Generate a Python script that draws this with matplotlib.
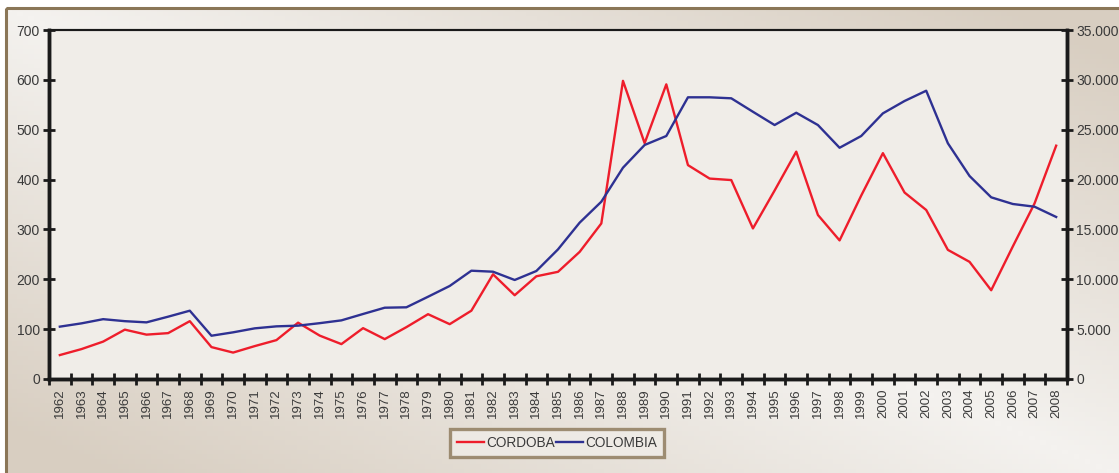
import matplotlib
matplotlib.use("Agg")
import matplotlib.pyplot as plt
import numpy as np
from matplotlib.patches import Rectangle
from matplotlib.colors import LinearSegmentedColormap
from matplotlib.ticker import FuncFormatter, MultipleLocator

years = list(range(1962, 2009))
cordoba = [48, 60, 75, 99, 89, 92, 116, 64, 53, 66, 78, 113, 87, 70, 102, 80,
           104, 130, 110, 137, 210, 168, 206, 215, 255, 312, 598, 473, 591, 429,
           402, 399, 302, 378, 456, 329, 278, 368, 453, 374, 339, 259, 235, 178,
           266, 352, 468]
colombia = [5250, 5580, 6000, 5800, 5680, 6250, 6850, 4340, 4680, 5080, 5280,
            5350, 5600, 5880, 6520, 7150, 7190, 8250, 9330, 10860, 10760, 9930,
            10830, 13000, 15680, 17780, 21190, 23470, 24370, 28250, 28250, 28150,
            26800, 25470, 26700, 25470, 23190, 24370, 26640, 27880, 28910, 23640,
            20360, 18220, 17550, 17280, 16250]
series_names = ["CORDOBA", "COLOMBIA"]

plt.rcParams['font.family'] = ['Liberation Sans', 'DejaVu Sans']

W, H = 1119, 473
fig = plt.figure(figsize=(W / 100, H / 100), dpi=100)
fig.patch.set_facecolor('white')

# background gradient frame
bg = fig.add_axes([0, 0, 1, 1], zorder=-10)
bg.set_xlim(0, W)
bg.set_ylim(H, 0)
bg.axis('off')
xs = np.linspace(0, 1, 200)
ys = np.linspace(0, 1, 100)
X, Y = np.meshgrid(xs, ys)
T = np.clip(np.abs(X - Y) * 1.1, 0, 1)
cmap = LinearSegmentedColormap.from_list('bgc', ['#F4F2EF', '#D8CEC1'])
bg.imshow(T, cmap=cmap, extent=[6, W + 5, H + 5, 8], aspect='auto', zorder=0,
          vmin=0, vmax=1)
bg.add_patch(Rectangle((6, 8), W, H, fill=False, edgecolor='#8A7657', lw=2.2, zorder=2))

ax = fig.add_axes([49 / W, 1 - 379 / H, (1067 - 49) / W, (379 - 30) / H])
ax.set_facecolor('#F0EDE8')
x = np.arange(len(years))
l1, = ax.plot(x, cordoba, color='#EE1D2B', lw=1.7, label=series_names[0])
ax.set_xlim(-0.5, len(years) - 0.5)
ax.set_ylim(0, 700)
ax.yaxis.set_major_locator(MultipleLocator(100))

ax2 = ax.twinx()
l2, = ax2.plot(x, colombia, color='#2E3192', lw=1.7, label=series_names[1])
ax2.set_ylim(0, 35000)
ax2.yaxis.set_major_locator(MultipleLocator(5000))
ax2.yaxis.set_major_formatter(FuncFormatter(lambda v, p: f"{int(v):,}".replace(",", ".")))

# x ticks at category boundaries, labels at centers
ax.set_xticks(np.arange(-0.5, len(years) + 0.5, 1))
ax.set_xticklabels([])
ax.set_xticks(x, minor=True)
ax.set_xticklabels([str(y) for y in years], minor=True, rotation=90, fontsize=9.5,
                   color='#3A3A3A')
ax.tick_params(axis='x', which='minor', length=0, pad=7)
ax.tick_params(axis='x', which='major', direction='inout', length=9, width=2, color='#1A1A1A')
ax.tick_params(axis='y', direction='inout', length=9, width=2, color='#1A1A1A',
               labelsize=10, labelcolor='#3A3A3A', pad=2)
ax2.tick_params(axis='y', direction='inout', length=9, width=2, color='#1A1A1A',
                labelsize=10, labelcolor='#3A3A3A', pad=2)

for a in (ax, ax2):
    for s in ('left', 'right', 'bottom'):
        a.spines[s].set_linewidth(2.5)
        a.spines[s].set_color('#1A1A1A')
    a.spines['top'].set_linewidth(1.5)
    a.spines['top'].set_color('#1A1A1A')

leg = fig.legend(handles=[l1, l2], loc='center', bbox_to_anchor=(557 / W, 1 - 443 / H),
                 ncol=2, frameon=True, fancybox=False, fontsize=9.8, handlelength=2.0,
                 handletextpad=0.15, columnspacing=0.05, borderpad=0.55,
                 borderaxespad=0)
leg.get_frame().set_edgecolor('#8A7657')
leg.get_frame().set_linewidth(2.4)
leg.get_frame().set_facecolor('#F0EDE8')
for t in leg.get_texts():
    t.set_color('#3A3A3A')

fig.savefig('out.png', dpi=100)
